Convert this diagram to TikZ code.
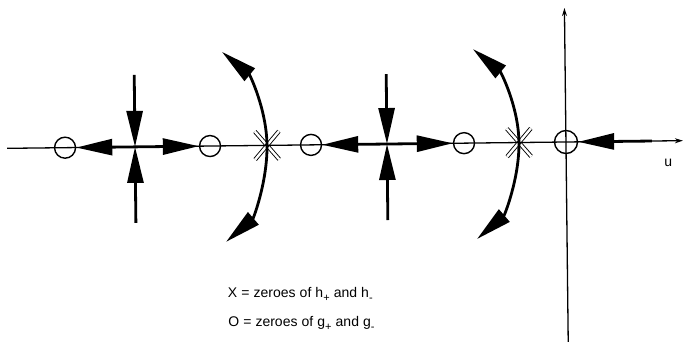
\documentclass[tikz,border=0pt]{standalone}
\usepackage{fontspec}
\setmainfont[WordSpace=1.05]{Liberation Sans}
\usetikzlibrary{arrows.meta}
\newcommand\sbs[1]{\raisebox{-0.55ex}{\fontsize{11}{11}\selectfont #1}}
\begin{document}
\begin{tikzpicture}[x=1pt,y=-1pt,
  axis/.style={line width=1.3pt},
  big/.style={line width=2.8pt, -{Triangle[length=36pt,width=16pt]}},
  zero/.style={circle, draw, line width=1.4pt, minimum size=21pt, inner sep=0pt},
  xmark/.style={double, double distance=2.4pt, line width=0.9pt},
  lbl/.style={font=\fontsize{14}{17}\selectfont, anchor=base west, inner sep=0pt}]
\useasboundingbox (0,0) rectangle (688,341);
\begin{scope}[rotate around={0.65:(566,142)}]
  % coordinates
  \coordinate (axL) at (7,142);
  \coordinate (axR) at (683,142);
  \coordinate (vT) at (566,8);
  \coordinate (vB) at (566,350);
  \coordinate (x1) at (135,142);
  \coordinate (x2) at (387,142);
  \coordinate (t1) at (135,70);
  \coordinate (b1) at (135,218);
  \coordinate (t2) at (387,72);
  \coordinate (b2) at (387,218);
  \coordinate (p1) at (267,142);
  \coordinate (p2) at (519,142);
  \coordinate (a1t) at (223,48);
  \coordinate (a1b) at (225,238);
  \coordinate (a2t) at (474,48);
  \coordinate (a2b) at (476,238);
  \coordinate (r0) at (652,142);
  % cross marks
  \draw[xmark] (255,128) -- (279,156);
  \draw[xmark] (255,156) -- (279,128);
  \draw[xmark] (507,128) -- (531,156);
  \draw[xmark] (507,156) -- (531,128);
  % axes
  \draw[axis, -{Stealth[length=8pt,width=5pt]}] (axL) -- (axR);
  \draw[axis, -{Stealth[length=8pt,width=5pt]}] (vB) -- (vT);
  % zeros
  \node[zero] (c1) at (65,142) {};
  \node[zero] (c2) at (210,142) {};
  \node[zero] (c3) at (311,142) {};
  \node[zero] (c4) at (464,142) {};
  \node[zero, minimum size=23pt] (c5) at (566,142) {};
  % arrows at crossing 1
  \draw[big] (t1) -- (x1);
  \draw[big] (b1) -- (x1);
  \draw[big] (x1) -- (c1);
  \draw[big] (x1) -- (c2);
  % arrows at crossing 2
  \draw[big] (t2) -- (x2);
  \draw[big] (b2) -- (x2);
  \draw[big] (x2) -- (c3);
  \draw[big] (x2) -- (c4);
  % arcs
  \draw[big] (p1) .. controls +(0,-36) and +(27.6,23.2) .. (a1t);
  \draw[big] (p1) .. controls +(0,36) and +(27.6,-23.2) .. (a1b);
  \draw[big] (p2) .. controls +(0,-36) and +(27.6,23.2) .. (a2t);
  \draw[big] (p2) .. controls +(0,36) and +(27.6,-23.2) .. (a2b);
  % right arrow
  \draw[big] (r0) -- (c5);
  % labels
  \node[font=\fontsize{14}{17}\selectfont] (u) at (668,164) {u};
  \node[lbl] (l1) at (226,294) {X = zeroes of h\sbs{+} and h\sbs{-}};
  \node[lbl] (l2) at (226,323) {O = zeroes of g\sbs{+} and g\sbs{-}};
\end{scope}
\end{tikzpicture}
\end{document}
